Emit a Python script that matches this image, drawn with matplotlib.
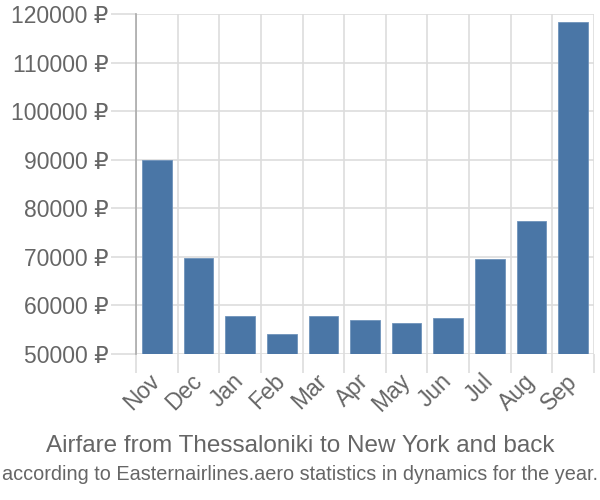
import matplotlib.pyplot as plt
import numpy as np

months = ["Nov", "Dec", "Jan", "Feb", "Mar", "Apr", "May", "Jun", "Jul", "Aug", "Sep"]
prices = [90000, 69800, 57800, 54200, 57800, 57000, 56300, 57500, 69600, 77300, 118300]
yticks = [50000, 60000, 70000, 80000, 90000, 100000, 110000, 120000]

plt.rcParams["font.family"] = ["Liberation Sans", "DejaVu Sans"]

fig = plt.figure(figsize=(6, 5), dpi=100)
ax = fig.add_axes([0.2267, 0.292, 0.7633, 0.68])

x = np.arange(len(months))
ax.bar(x, np.array(prices) - 50000, bottom=50000, width=0.71,
       color="#4a76a6", edgecolor="#6f93bb", linewidth=0.6, zorder=3)

ax.set_xlim(-0.5, len(months) - 0.5)
ax.set_ylim(50000, 120000)

ax.set_yticks(yticks)
ax.set_yticklabels([f"{v} ₽" for v in yticks])
ax.set_xticks(x)
ax.set_xticklabels(months, rotation=45, ha="right", va="center", rotation_mode="anchor")
ax.set_xticks(np.arange(-0.5, len(months)), minor=True)

ax.tick_params(axis="y", length=18, width=1.2, color="#dddddd",
               labelsize=16.5, labelcolor="#666666", pad=2)
ax.tick_params(axis="x", which="major", length=0, labelsize=16.5,
               labelcolor="#666666", pad=17)
ax.tick_params(axis="x", which="minor", length=14, width=1.2, color="#dddddd")

ax.grid(True, axis="y", color="#dddddd", linewidth=1.2, zorder=0)
ax.grid(True, axis="x", which="minor", color="#dddddd", linewidth=1.2, zorder=0)

for s in ["top", "right", "bottom"]:
    ax.spines[s].set_visible(False)
ax.spines["left"].set_color("#aaaaaa")
ax.spines["left"].set_linewidth(1.2)

fig.text(0.5, 0.108, "Airfare from Thessaloniki to New York and back",
         ha="center", va="center", fontsize=17.5, color="#666666")
fig.text(0.5, 0.05, "according to Easternairlines.aero statistics in dynamics for the year.",
         ha="center", va="center", fontsize=14.3, color="#666666")

fig.savefig("out.png", dpi=100)
